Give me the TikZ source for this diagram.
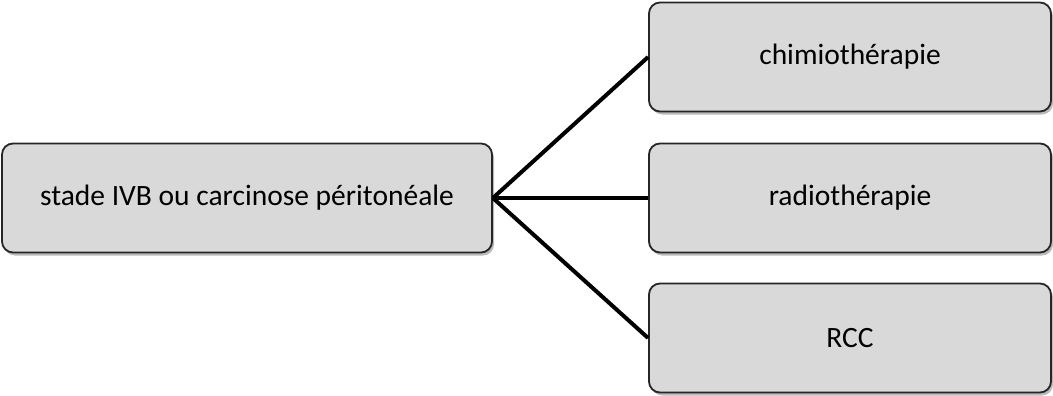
\documentclass[tikz,border=0pt]{standalone}
\usepackage{fontspec}
\setmainfont{Carlito}
\usetikzlibrary{positioning,shadows}
\definecolor{boxgray}{HTML}{D9D9D9}
\begin{document}
\begin{tikzpicture}[x=1pt,y=-1pt,inner sep=0pt]
  \useasboundingbox(0,0)rectangle(1053,396);
  \tikzstyle{b}=[rectangle,rounded corners=11pt,draw=black!85,line width=1.8pt,fill=boxgray,
    drop shadow={shadow xshift=2pt,shadow yshift=-3pt,fill=black!45,opacity=0.6},
    minimum height=109pt,font=\fontsize{29.5}{34}\selectfont]
  \node[b,minimum width=490pt](stade)at(247,198){stade IVB ou carcinose péritonéale};
  \node[b,minimum width=402pt](chimio)at(850,57){chimiothérapie};
  \node[b,minimum width=402pt](radio)at(850,198){radiothérapie};
  \node[b,minimum width=402pt](rcc)at(850,338){RCC};
  \tikzstyle{e}=[draw=black,line width=4pt]
  \foreach\d in{chimio,radio,rcc}{\draw[e](stade.east)--(\d.west);}
\end{tikzpicture}
\end{document}
